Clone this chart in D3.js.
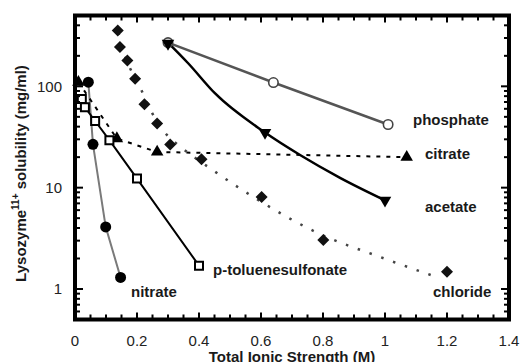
<!DOCTYPE html>
<html>
<head>
<meta charset="utf-8">
<script src="https://cdn.jsdelivr.net/npm/d3@7"></script>
<style>
  body { margin: 0; background: #fff; }
  text { font-family: "Liberation Sans", Arial, sans-serif; }
</style>
</head>
<body>
<svg id="chart" width="520" height="362"></svg>
<script>
// values: [ionic strength (M), solubility (mg/ml)]
const nitrate = [[0.043, 110], [0.058, 26.8], [0.099, 4.1], [0.147, 1.3]];
const ptoluenesulfonate = [[0.022, 75], [0.032, 62], [0.065, 45.5], [0.111, 29.4], [0.2, 12.3], [0.4, 1.7]];
const citrate = [[0.011, 110], [0.135, 30.5], [0.265, 22.5], [1.07, 20]];
const chloride = [[0.138, 356], [0.145, 244], [0.169, 180], [0.194, 119], [0.224, 66.5], [0.265, 43],
  [0.307, 26.6], [0.408, 19.1], [0.602, 8.1], [0.801, 3.04], [1.2, 1.48]];
const chlorideFit = [[0.14, 340], [0.161, 202], [0.21, 98], [0.248, 55], [0.297, 33], [0.339, 25.5],
  [0.435, 15.6], [0.581, 7.9], [0.784, 3.56], [0.984, 2.07], [1.17, 1.3]];
const acetate = [[0.3, 265], [0.613, 35], [1.0, 7.5]];
const acetateFit = [[0.3, 270], [0.365, 169], [0.452, 85], [0.613, 35], [0.726, 21], [0.855, 12.5], [1.0, 7.5]];
const phosphate = [[0.3, 270], [0.64, 109], [1.01, 42]];

const xTickValues = [0, 0.2, 0.4, 0.6, 0.8, 1, 1.2, 1.4];
const xTickLabels = ['0', '0.2', '0.4', '0.6', '0.8', '1', '1.2', '1.4'];
const yTickValues = [1, 10, 100];
const yTickLabels = ['1', '10', '100'];

const xTitle = 'Total Ionic Strength (M)';

const svg = d3.select('#chart');

const x = d3.scaleLinear().domain([0, 1.4]).range([75, 509]);
const y = d3.scaleLog().domain([0.5, 500]).range([319.5, 15.5]);

const lineOf = curve => d3.line()
  .x(d => x(d[0]))
  .y(d => y(d[1]))
  .curve(curve);

// lines
const lines = [
  { data: nitrate, stroke: '#7a7a7a', width: 2, dash: null, curve: d3.curveLinear },
  { data: ptoluenesulfonate, stroke: '#000', width: 2, dash: null, curve: d3.curveLinear },
  { data: citrate, stroke: '#000', width: 2, dash: '4,6', curve: d3.curveLinear },
  { data: chlorideFit, stroke: '#444', width: 2.5, dash: '2.5,10', curve: d3.curveMonotoneX },
  { data: acetateFit, stroke: '#000', width: 2.5, dash: null, curve: d3.curveMonotoneX },
  { data: phosphate, stroke: '#555', width: 2.5, dash: null, curve: d3.curveLinear }
];

svg.append('g').attr('class', 'lines')
  .selectAll('path')
  .data(lines)
  .enter()
  .append('path')
  .attr('fill', 'none')
  .attr('stroke', l => l.stroke)
  .attr('stroke-width', l => l.width)
  .attr('stroke-dasharray', l => l.dash)
  .attr('d', l => lineOf(l.curve)(l.data));

// markers
const markerSets = [
  { data: citrate, type: d3.symbolTriangle, size: 68, rotate: 0, fill: '#000', stroke: 'none', sw: 0 },
  { data: ptoluenesulfonate, type: d3.symbolSquare, size: 64, rotate: 0, fill: '#fff', stroke: '#000', sw: 2 },
  { data: nitrate, type: d3.symbolCircle, size: 95, rotate: 0, fill: '#000', stroke: 'none', sw: 0 },
  { data: chloride, type: d3.symbolSquare, size: 72, rotate: 45, fill: '#111', stroke: 'none', sw: 0 },
  { data: phosphate, type: d3.symbolCircle, size: 70, rotate: 0, fill: '#fff', stroke: '#444', sw: 1.6 },
  { data: acetate, type: d3.symbolTriangle, size: 68, rotate: 180, fill: '#000', stroke: 'none', sw: 0 }
];

const mg = svg.append('g').attr('class', 'markers');
markerSets.forEach(m => {
  mg.append('g')
    .selectAll('path')
    .data(m.data)
    .enter()
    .append('path')
    .attr('d', d3.symbol().type(m.type).size(m.size))
    .attr('transform', d => `translate(${x(d[0])},${y(d[1])}) rotate(${m.rotate})`)
    .attr('fill', m.fill)
    .attr('stroke', m.stroke)
    .attr('stroke-width', m.sw);
});

// series labels
const seriesLabels = [
  { text: 'phosphate', x: 413, y: 125 },
  { text: 'citrate', x: 425, y: 159 },
  { text: 'acetate', x: 425, y: 211.5 },
  { text: 'p-toluenesulfonate', x: 213, y: 274.5 },
  { text: 'nitrate', x: 131, y: 296.5 },
  { text: 'chloride', x: 433, y: 296.5 }
];

svg.append('g').attr('class', 'series-labels')
  .selectAll('text')
  .data(seriesLabels)
  .enter()
  .append('text')
  .attr('x', d => d.x)
  .attr('y', d => d.y)
  .attr('font-size', 15)
  .attr('font-weight', 'bold')
  .attr('fill', '#1a1a1a')
  .text(d => d.text);

// ticks (inward, on all four sides)
const xMinor = d3.range(1, 28).map(i => +(i * 0.05).toFixed(2)).filter(v => Math.abs(v / 0.2 - Math.round(v / 0.2)) > 1e-6);
const xMajor = [0.2, 0.4, 0.6, 0.8, 1, 1.2];
const yMinor = [];
[0.1, 1, 10, 100].forEach(dec => {
  for (let k = 2; k <= 9; k++) {
    const v = dec * k;
    if (v >= 0.5 && v <= 500) yMinor.push(v);
  }
});

const ticks = svg.append('g').attr('class', 'ticks')
  .attr('stroke', '#000').attr('stroke-width', 2);

const tickSets = [
  { vals: xMinor, len: 5, axis: 'x' },
  { vals: xMajor, len: 7, axis: 'x' },
  { vals: yMinor, len: 5, axis: 'y' },
  { vals: yTickValues, len: 8, axis: 'y' }
];

tickSets.forEach(t => {
  t.vals.forEach(v => {
    if (t.axis === 'x') {
      ticks.append('line').attr('x1', x(v)).attr('x2', x(v))
        .attr('y1', y.range()[0]).attr('y2', y.range()[0] - t.len);
      ticks.append('line').attr('x1', x(v)).attr('x2', x(v))
        .attr('y1', y.range()[1]).attr('y2', y.range()[1] + t.len);
    } else {
      ticks.append('line').attr('y1', y(v)).attr('y2', y(v))
        .attr('x1', x.range()[0]).attr('x2', x.range()[0] + t.len);
      ticks.append('line').attr('y1', y(v)).attr('y2', y(v))
        .attr('x1', x.range()[1]).attr('x2', x.range()[1] - t.len);
    }
  });
});

// frame
svg.append('rect')
  .attr('x', x.range()[0])
  .attr('y', y.range()[1])
  .attr('width', x.range()[1] - x.range()[0])
  .attr('height', y.range()[0] - y.range()[1])
  .attr('fill', 'none')
  .attr('stroke', '#000')
  .attr('stroke-width', 4);

// tick labels
svg.append('g').attr('class', 'x-labels')
  .selectAll('text')
  .data(xTickValues)
  .enter()
  .append('text')
  .attr('x', d => x(d))
  .attr('y', 345.5)
  .attr('text-anchor', 'middle')
  .attr('font-size', 15)
  .attr('fill', '#222')
  .text((d, i) => xTickLabels[i]);

svg.append('g').attr('class', 'y-labels')
  .selectAll('text')
  .data(yTickValues)
  .enter()
  .append('text')
  .attr('x', 62)
  .attr('y', d => y(d))
  .attr('dy', '0.36em')
  .attr('text-anchor', 'end')
  .attr('font-size', 15)
  .attr('fill', '#222')
  .text((d, i) => yTickLabels[i]);

// axis titles
svg.append('text')
  .attr('x', (x.range()[0] + x.range()[1]) / 2)
  .attr('y', 361.5)
  .attr('text-anchor', 'middle')
  .attr('font-size', 15)
  .attr('font-weight', 'bold')
  .attr('fill', '#1a1a1a')
  .text(xTitle);

const yTitle = svg.append('text')
  .attr('transform', 'translate(26,173.5) rotate(-90)')
  .attr('text-anchor', 'middle')
  .attr('font-size', 15)
  .attr('font-weight', 'bold')
  .attr('fill', '#1a1a1a');
yTitle.append('tspan').text('Lysozyme');
yTitle.append('tspan').attr('font-size', 10).attr('dy', -7).text('11+');
yTitle.append('tspan').attr('dy', 7).text(' solubility (mg/ml)');
</script>
</body>
</html>
